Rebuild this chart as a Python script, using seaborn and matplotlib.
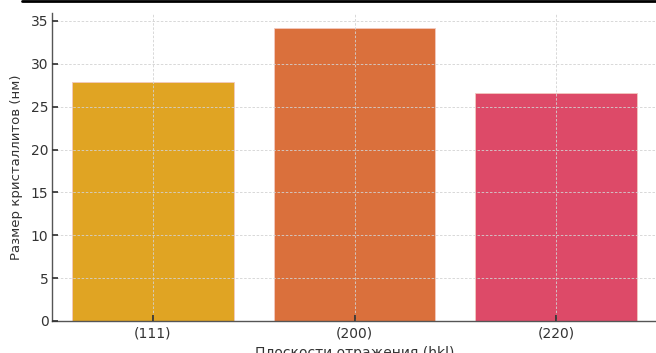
import matplotlib
matplotlib.use("Agg")
import matplotlib.pyplot as plt
import matplotlib.lines as mlines
import pandas as pd
import seaborn as sns

# --- data ---
planes = ["(111)", "(200)", "(220)"]
sizes_nm = [27.9, 34.2, 26.6]
bar_colors = ["#E0A423", "#DA703C", "#DD4A68"]

df = pd.DataFrame({"plane": planes, "size": sizes_nm})

sns.set_theme(style="white")
plt.rcParams["font.family"] = ["DejaVu Sans"]

fig = plt.figure(figsize=(6.56, 3.53), dpi=100)
ax = fig.add_axes([0.0793, 0.0907, 0.9222, 0.872])

sns.barplot(data=df, x="plane", y="size", hue="plane", palette=bar_colors,
            legend=False, saturation=1, width=0.8, ax=ax,
            edgecolor="#f2c9c0", linewidth=0.6)

ax.set_ylim(0, 35.91)
ax.set_xlim(-0.5, 2.5)
ax.set_yticks(range(0, 36, 5))
ax.set_axisbelow(False)
ax.grid(True, linestyle=(0, (3, 2)), color="#d2d2d2", linewidth=0.6)

ax.set_xlabel("Плоскости отражения (hkl)", fontsize=10, color="#333333")
ax.set_ylabel("Размер кристаллитов (нм)", fontsize=9.5, color="#333333",
              labelpad=6)
ax.tick_params(axis="both", labelsize=10, colors="#333333", length=4,
               direction="in", pad=2.5, left=True, bottom=True)
ax.tick_params(axis="x", pad=4)

for side in ["top", "right"]:
    ax.spines[side].set_visible(False)
for side in ["left", "bottom"]:
    ax.spines[side].set_color("#555555")
    ax.spines[side].set_linewidth(1.0)

# cropped edge line at the very top of the source image
fig.add_artist(mlines.Line2D([22 / 656, 1.0], [0.996, 0.996],
                             transform=fig.transFigure, color="black",
                             linewidth=2))

fig.savefig("out.png", dpi=100)
